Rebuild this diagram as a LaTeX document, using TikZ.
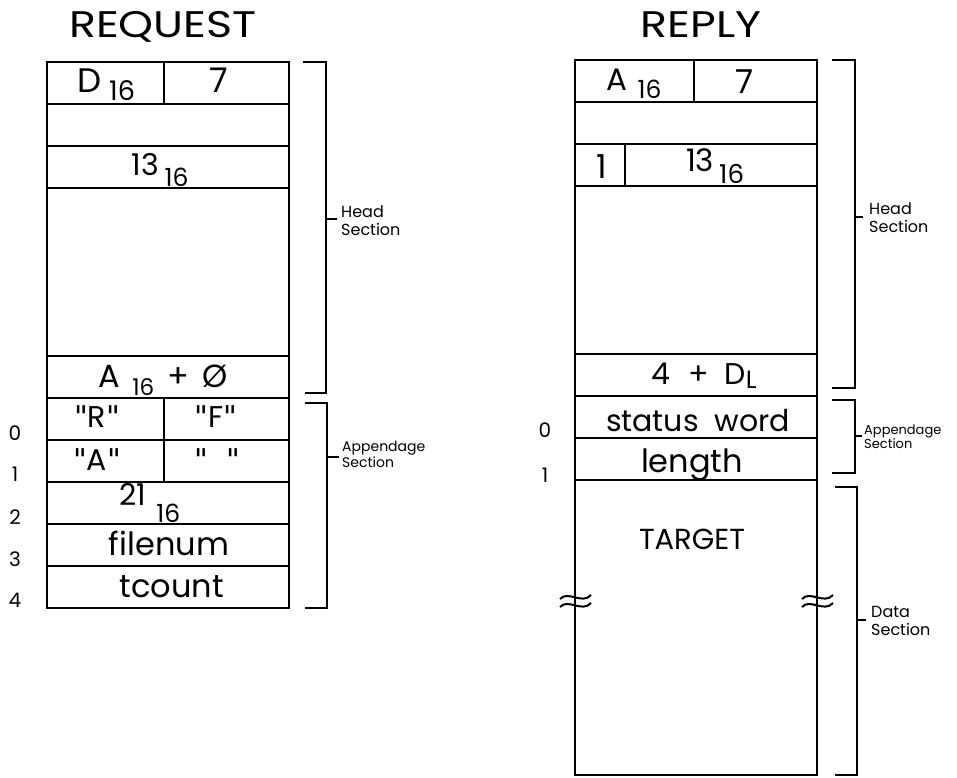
\documentclass[tikz,border=0pt]{standalone}
\usepackage{fontspec}
\setmainfont{Poppins}
\newfontfamily\qf{DejaVu Sans}
\newcommand\sbt[3]{\raisebox{-#1pt}{\fontsize{#2}{#2}\selectfont #3}}
\newcommand\fs[1]{\fontsize{#1}{#1}\selectfont}
\newcommand\qq{{\qf\char"0022}}
\tikzset{
  frame/.style={line width=1.8pt, line cap=rect},
  brk/.style={line width=2pt},
  txt/.style={inner sep=0pt, anchor=base},
  lbl/.style={inner sep=0pt, anchor=west, font=\fontsize{16}{18}\selectfont, align=left},
  idx/.style={inner sep=0pt, anchor=base, font=\fs{20}},
  ttl/.style={inner sep=0pt, anchor=base, font=\fs{37}},
}
\begin{document}
\begin{tikzpicture}[x=1pt,y=-1pt]
\useasboundingbox (0,0) rectangle (957,777);
% ---------- titles
\node[ttl] (treq) at (163,37) {\scalebox{1.2}[1]{REQUEST}};
\node[ttl] (trep) at (701,37) {\scalebox{1.2}[1]{REPLY}};
% ---------- REQUEST table
\draw[frame] (47,62) rectangle (289,608);
\foreach \yy in {104,146,188,356,398,440,482,524,566}
  \draw[frame] (47,\yy) -- (289,\yy);
\draw[frame] (164,62) -- (164,104);
\draw[frame] (164,398) -- (164,482);
\node[txt, font=\fs{34}] (l0a) at (106,92) {D\hspace{8pt}\sbt{8}{27}{16}};
\node[txt, font=\fs{34}] (l0b) at (219,92) {7};
\node[txt, font=\fs{30}] (l2) at (160,175) {13\hspace{6pt}\sbt{11}{25}{16}};
\node[txt, font=\fs{32}] (l7) at (163,387) {A\hspace{12pt}\sbt{8}{23}{16}\hspace{13pt}+\hspace{13pt}Ø};
\node[txt, font=\fs{30}] (l8a) at (97,427) {\qq R\qq};
\node[txt, font=\fs{30}] (l8b) at (216,427) {\qq F\qq};
\node[txt, font=\fs{30}] (l9a) at (97,470) {\qq A\qq};
\node[txt, font=\fs{30}] (l9b) at (217,470) {\qq\hspace{18pt}\qq};
\node[txt, font=\fs{30}] (l10) at (150,505) {21\hspace{10pt}\sbt{17}{25}{16}};
\node[txt, font=\fs{32}] (l11) at (169,555) {filenum};
\node[txt, font=\fs{32}] (l12) at (172,597) {tcount};
% index
\node[idx] (i0) at (15,440) {0};
\node[idx] (i1) at (15,481) {1};
\node[idx] (i2) at (15,524) {2};
\node[idx] (i3) at (15,566) {3};
\node[idx] (i4) at (15,607) {4};
% brackets
\draw[frame, line cap=butt] (303,62) -- (326,62) -- (326,393) -- (305,393);
\draw[frame, line cap=butt] (326,219) -- (337,219);
\node[lbl] (hs1) at (341,221) {Head\\Section};
\draw[frame, line cap=butt] (305,403) -- (327,403) -- (327,608) -- (305,608);
\draw[frame, line cap=butt] (327,457) -- (339,457);
\node[lbl, font=\fontsize{14}{16}\selectfont] (as1) at (342,454) {Appendage\\Section};
% ---------- REPLY table
\draw[frame] (575,60) rectangle (817,775);
\foreach \yy in {102,144,186,354,396,438,480}
  \draw[frame] (575,\yy) -- (817,\yy);
\draw[frame] (694,60) -- (694,102);
\draw[frame] (625,144) -- (625,186);
\node[txt, font=\fs{31}] (r0a) at (634,90) {A\hspace{10pt}\sbt{8}{25}{16}};
\node[txt, font=\fs{33}] (r0b) at (744,93) {7};
\node[txt, font=\fs{33}] (r2a) at (602,178) {1};
\node[txt, font=\fs{31}] (r2b) at (715,171) {13\hspace{5pt}\sbt{12}{26}{16}};
\node[txt, font=\fs{30}] (r7) at (704,384) {4\hspace{18pt}+\hspace{16pt}D\sbt{4}{25}{L}};
\node[txt, font=\fs{30}] (r8) at (698,431) {status\hspace{16pt}word};
\node[txt, font=\fs{32}] (r9) at (692,472) {length};
\node[txt, font=\fs{29}] (r10) at (692,549) {TARGET};
\node[idx] (j0) at (545,437) {0};
\node[idx] (j1) at (545,482) {1};
% break marks
\foreach \bx in {575,817}{
  \draw[brk] (\bx-15,599) .. controls (\bx-7,590) and (\bx+7,605) .. (\bx+16,595);
  \draw[brk] (\bx-15,607) .. controls (\bx-7,598) and (\bx+7,613) .. (\bx+16,603);
}
% brackets
\draw[frame, line cap=butt] (832,60) -- (855,60) -- (855,388) -- (832,388);
\draw[frame, line cap=butt] (855,217) -- (863,217);
\node[lbl] (hs2) at (869,218) {Head\\Section};
\draw[frame, line cap=butt] (832,400) -- (855,400) -- (855,473) -- (832,473);
\draw[frame, line cap=butt] (855,436) -- (862,436);
\node[lbl, font=\fontsize{13}{14}\selectfont] (as2) at (864,437) {Appendage\\Section};
\draw[frame, line cap=butt] (835,487) -- (857,487) -- (857,775) -- (835,775);
\draw[frame, line cap=butt] (857,620) -- (866,620);
\node[lbl] (ds2) at (871,621) {Data\\Section};
\end{tikzpicture}
\end{document}
